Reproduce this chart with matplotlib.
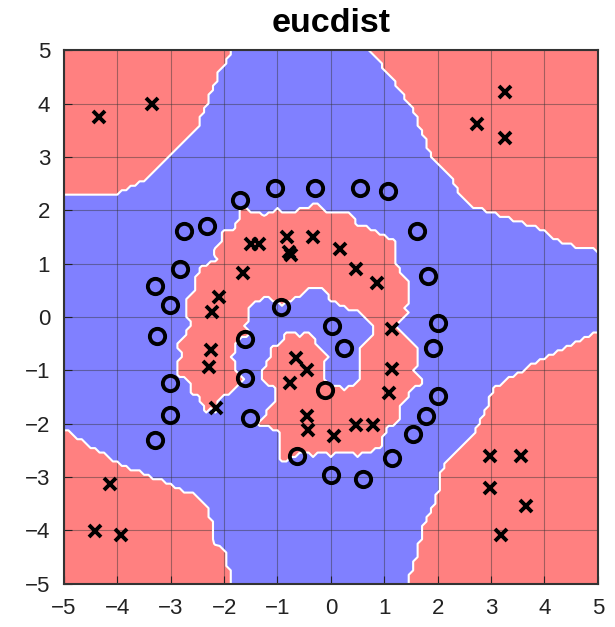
import numpy as np
import matplotlib.pyplot as plt

# class "o" points (blue class)
o_x = [-1.70, -1.04, -0.30, 0.55, 1.07, -2.32, -2.76, -2.82, -3.29, -3.01,
       -3.25, -3.01, -3.01, -3.29, 1.61, 1.82, 2.01, 1.92, 2.01, 1.79,
       1.54, 1.14, 0.60, 0.01, -0.64, -1.51, -1.60, -1.60, -0.93, 0.02,
       0.24, -0.11]
o_y = [2.20, 2.42, 2.42, 2.42, 2.36, 1.70, 1.61, 0.89, 0.58, 0.23,
       -0.36, -1.23, -1.83, -2.30, 1.61, 0.77, -0.11, -0.58, -1.49, -1.86,
       -2.20, -2.65, -3.03, -2.97, -2.61, -1.89, -1.14, -0.42, 0.19, -0.17,
       -0.58, -1.36]

# class "x" points (red class)
x_x = [-4.35, -3.35, 3.26, 2.73, 3.26, 2.98, 3.57, 2.98, 3.66, 3.19,
       -4.13, -4.41, -3.94,
       -1.50, -1.35, -0.82, -0.78, -0.74, -0.33, 0.18, 0.48, 0.86, -1.65,
       -2.10, -2.23, -2.24, -2.29, -2.16, 1.14, 1.14, 1.08, 0.79, 0.48,
       0.05, -0.42, -0.45, -0.76, -0.45, -0.66]
x_y = [3.74, 3.99, 4.21, 3.61, 3.36, -2.61, -2.61, -3.20, -3.55, -4.08,
       -3.14, -4.02, -4.08,
       1.37, 1.37, 1.49, 1.22, 1.16, 1.49, 1.27, 0.89, 0.64, 0.83,
       0.38, 0.09, -0.62, -0.93, -1.70, -0.23, -0.98, -1.42, -2.02, -2.02,
       -2.24, -2.11, -1.86, -1.23, -1.00, -0.77]

ticks = list(range(-5, 6))
k = 3  # neighbours, euclidean distance

# decision map from k nearest neighbours on a grid
pts = np.column_stack([np.r_[o_x, x_x], np.r_[o_y, x_y]])
lab = np.r_[-np.ones(len(o_x)), np.ones(len(x_x))]
g = np.linspace(-5, 5, 121)
gx, gy = np.meshgrid(g, g)
G = np.column_stack([gx.ravel(), gy.ravel()])
DG = np.sqrt(((G[:, None, :] - pts[None, :, :]) ** 2).sum(-1))
nb = np.argsort(DG, axis=1)[:, :k]
F = lab[nb].mean(axis=1).reshape(gx.shape)

fig = plt.figure(figsize=(6.15, 6.27), dpi=100)
ax = fig.add_axes([0.104, 0.069, 0.868, 0.851])

ax.contourf(gx, gy, F, levels=[-2, 0, 2], colors=['#8080ff', '#ff8080'])
ax.contour(gx, gy, F, levels=[0], colors='white', linewidths=1.5)

ax.plot(o_x, o_y, 'o', mfc='none', mec='black', ms=11, mew=2.8)
ax.plot(x_x, x_y, 'x', color='black', ms=9, mew=2.8)

ax.set_xlim(-5, 5)
ax.set_ylim(-5, 5)
ax.set_xticks(ticks)
ax.set_yticks(ticks)
ax.grid(True, color='#333333', lw=0.8, alpha=0.45)
ax.tick_params(direction='in', labelsize=16, length=6, pad=10, colors='#222222')
for s in ax.spines.values():
    s.set_linewidth(1.5)
    s.set_color('#333333')
for lbl in ax.get_xticklabels() + ax.get_yticklabels():
    lbl.set_family('Liberation Sans')
ax.set_title('eucdist', fontsize=24.5, fontweight='bold', family='Liberation Sans', pad=13)

fig.savefig('out.png', dpi=100)
